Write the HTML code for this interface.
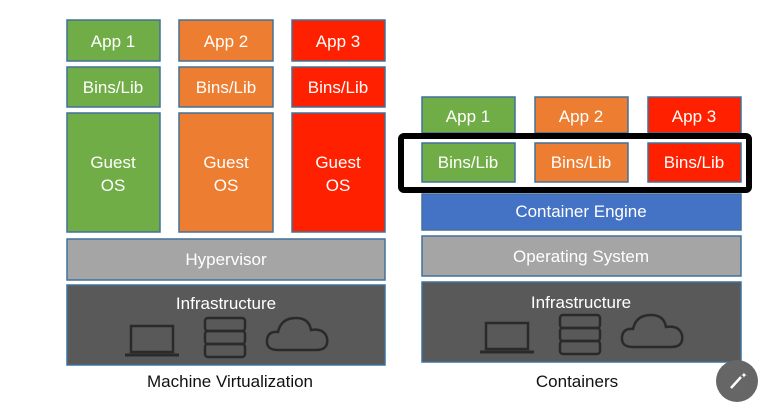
<!DOCTYPE html>
<html><head><style>
html,body{margin:0;padding:0;background:#fff;}
svg{display:block;}
text{font-family:"Liberation Sans",sans-serif;fill:#fff;text-anchor:middle;}
</style></head><body>
<svg width="768" height="406" viewBox="0 0 768 406" xmlns="http://www.w3.org/2000/svg">
<defs>
<g id="icons" fill="none" stroke="#2a2a2a" stroke-width="2.5">
  <rect x="131" y="326" width="42" height="26"/>
  <line x1="125" y1="355" x2="179" y2="355" stroke-width="3"/>
  <rect x="205" y="318" width="40" height="13" rx="3"/>
  <rect x="205" y="331" width="40" height="13" rx="3"/>
  <rect x="205" y="344" width="40" height="13" rx="3"/>
  <path d="M278 350 Q266 350 267 340 Q268 331 278 332 Q281 318 296 318 Q309 318 311 330 Q324 328 327 338 Q329 350 316 350 Z"/>
</g>
</defs>
<g stroke="#41719c" stroke-width="1.5">
<rect x="67" y="20" width="93" height="41" fill="#70ad47"/>
<rect x="179" y="20" width="94" height="41" fill="#ed7d31"/>
<rect x="292" y="20" width="93" height="41" fill="#ff2000"/>
<rect x="67" y="67" width="93" height="40" fill="#70ad47"/>
<rect x="179" y="67" width="94" height="40" fill="#ed7d31"/>
<rect x="292" y="67" width="93" height="40" fill="#ff2000"/>
<rect x="67" y="113" width="93" height="119" fill="#70ad47"/>
<rect x="179" y="113" width="94" height="119" fill="#ed7d31"/>
<rect x="292" y="113" width="93" height="119" fill="#ff2000"/>
<rect x="67" y="239" width="318" height="41" fill="#a5a5a5"/>
<rect x="67" y="285" width="318" height="80" fill="#595959"/>
<rect x="422" y="97" width="93" height="36" fill="#70ad47"/>
<rect x="535" y="97" width="93" height="36" fill="#ed7d31"/>
<rect x="648" y="97" width="93" height="36" fill="#ff2000"/>
<rect x="422" y="143" width="93" height="39" fill="#70ad47"/>
<rect x="535" y="143" width="93" height="39" fill="#ed7d31"/>
<rect x="648" y="143" width="93" height="39" fill="#ff2000"/>
<rect x="422" y="194" width="319" height="36" fill="#4472c4"/>
<rect x="422" y="236" width="319" height="40" fill="#a5a5a5"/>
<rect x="422" y="282" width="319" height="80" fill="#595959"/>
</g>
<rect x="401" y="136" width="348" height="54" rx="3" fill="none" stroke="#000" stroke-width="6"/>
<use href="#icons"/>
<use href="#icons" transform="translate(355,-3)"/>
<g font-size="17">
<text x="113" y="47">App 1</text><text x="226" y="47">App 2</text><text x="338" y="47">App 3</text>
<text x="113" y="93">Bins/Lib</text><text x="226" y="93">Bins/Lib</text><text x="338" y="93">Bins/Lib</text>
<text x="113" y="168">Guest</text><text x="226" y="168">Guest</text><text x="338" y="168">Guest</text>
<text x="113" y="191">OS</text><text x="226" y="191">OS</text><text x="338" y="191">OS</text>
<text x="226" y="265">Hypervisor</text>
<text x="226" y="309">Infrastructure</text>
<text x="468" y="122">App 1</text><text x="581" y="122">App 2</text><text x="694" y="122">App 3</text>
<text x="468" y="168">Bins/Lib</text><text x="581" y="168">Bins/Lib</text><text x="694" y="168">Bins/Lib</text>
<text x="581" y="217">Container Engine</text>
<text x="581" y="262">Operating System</text>
<text x="581" y="308">Infrastructure</text>
<text x="230" y="387" style="fill:#111">Machine Virtualization</text>
<text x="577" y="387" style="fill:#111">Containers</text>
</g>
<circle cx="737" cy="381" r="21" fill="#666"/>
<line x1="731" y1="388" x2="741" y2="377" stroke="#fff" stroke-width="2.5"/>
<text x="744" y="378" font-size="8">✦</text>
</svg>
</body></html>
